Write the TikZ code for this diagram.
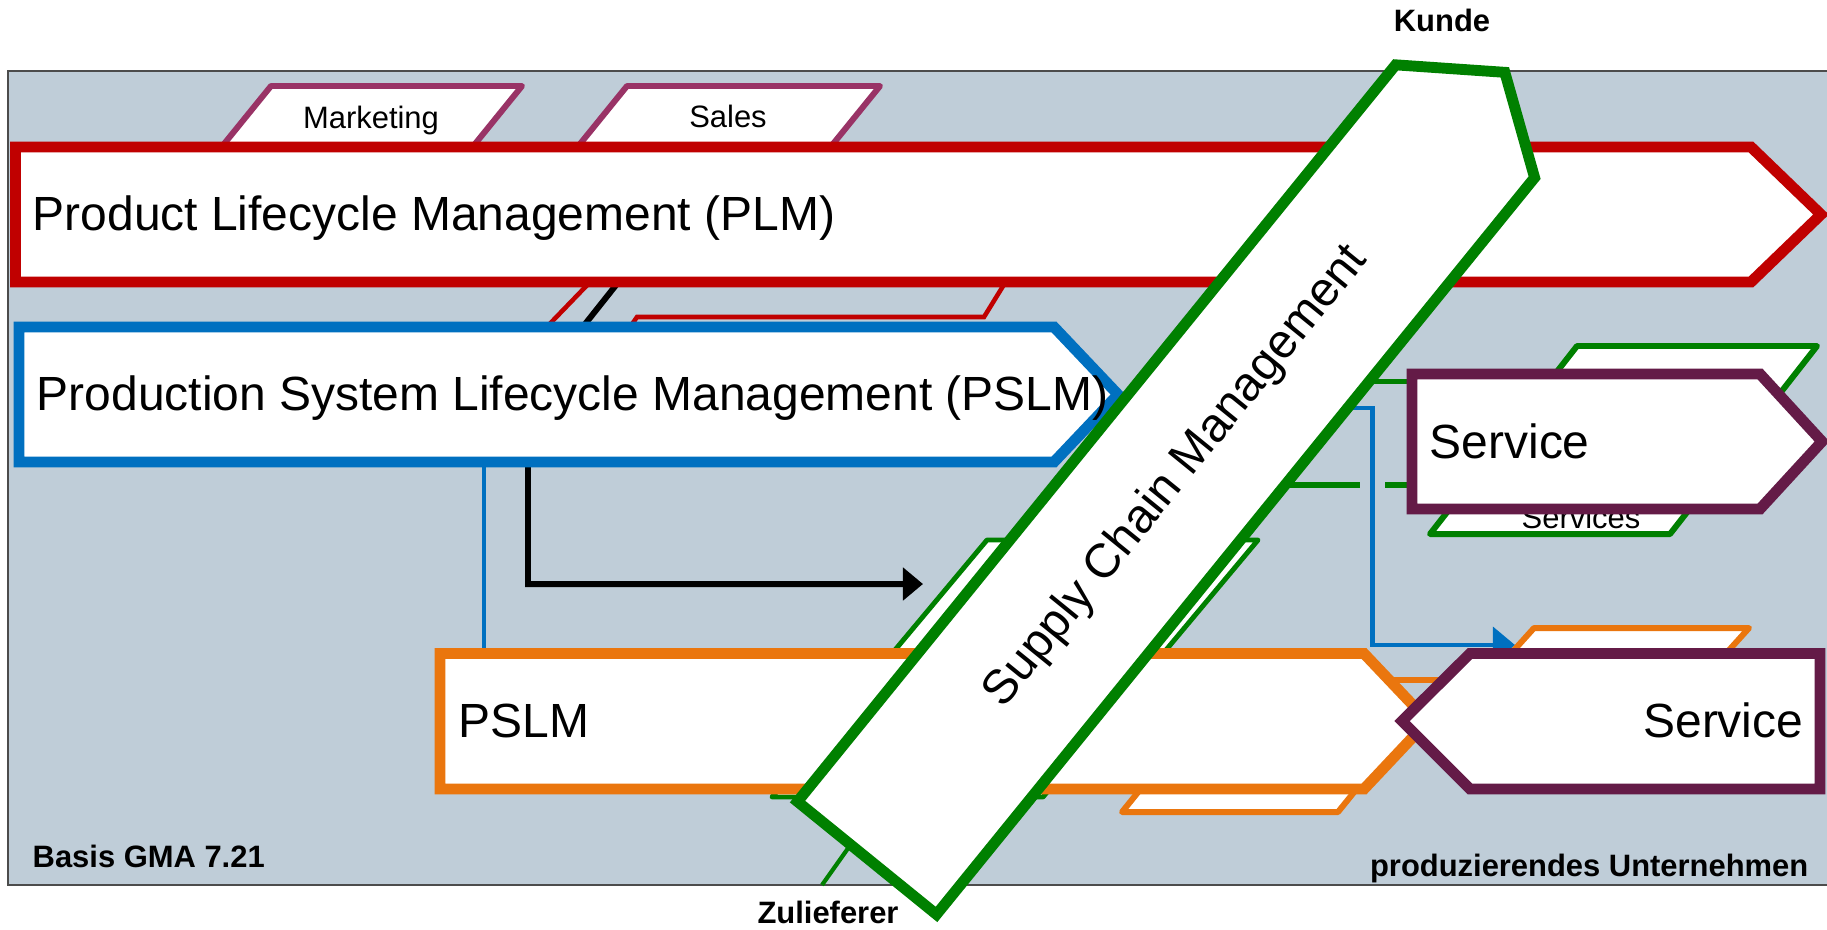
\documentclass[tikz,border=0pt]{standalone}
\usepackage{fontspec}
\setmainfont{Liberation Sans}
\usepackage{tikz}
\usetikzlibrary{arrows.meta}
\definecolor{plmred}{RGB}{192, 0, 0}
\definecolor{pslmblue}{RGB}{0, 112, 192}
\definecolor{scmgreen}{RGB}{0, 128, 0}
\definecolor{prodorange}{RGB}{234, 118, 14}
\definecolor{servpurple}{RGB}{100, 27, 71}
\definecolor{tabplum}{RGB}{153, 51, 102}
\definecolor{basegray}{RGB}{191, 205, 216}

\begin{document}
\begin{tikzpicture}[
    band/.style={draw=#1, fill=white, line width=3.1pt},
    tab/.style={draw=#1, fill=white, line width=1.7pt, line join=round},
    link/.style={draw=#1, line width=1.3pt},
    bigtext/.style={font=\fontsize{13.65}{16}\selectfont, inner sep=0pt},
    tabtext/.style={font=\fontsize{8.8}{10}\selectfont, inner sep=0pt},
    edgetext/.style={font=\fontsize{8.8}{10}\selectfont\bfseries, inner sep=0pt}
]
    \useasboundingbox (0,0) rectangle (18.27,-9.29);

    % ==========================================
    % COMPANY BACKGROUND
    % ==========================================
    \fill[basegray] (0.08,-0.71) rectangle (18.6,-8.85);
    \draw[black!70, line width=0.5pt] (18.6,-0.71) -- (0.08,-0.71) -- (0.08,-8.85) -- (18.6,-8.85);

    % ==========================================
    % COORDINATES
    % ==========================================
    % PLM band
    \coordinate (plm_nw) at (0.155,-1.47);
    \coordinate (plm_ne) at (17.51,-1.47);
    \coordinate (plm_tip) at (18.21,-2.145);
    \coordinate (plm_se) at (17.51,-2.82);
    \coordinate (plm_sw) at (0.155,-2.82);

    % PSLM band
    \coordinate (pslm_nw) at (0.19,-3.27);
    \coordinate (pslm_ne) at (10.54,-3.27);
    \coordinate (pslm_tip) at (11.18,-3.945);
    \coordinate (pslm_se) at (10.54,-4.62);
    \coordinate (pslm_sw) at (0.19,-4.62);

    % PSLM (orange) band
    \coordinate (prod_nw) at (4.40,-6.535);
    \coordinate (prod_ne) at (13.64,-6.535);
    \coordinate (prod_tip) at (14.28,-7.21);
    \coordinate (prod_se) at (13.64,-7.89);
    \coordinate (prod_sw) at (4.40,-7.89);

    % Service (top)
    \coordinate (serv_nw) at (14.12,-3.74);
    \coordinate (serv_ne) at (17.60,-3.74);
    \coordinate (serv_tip) at (18.22,-4.415);
    \coordinate (serv_se) at (17.60,-5.09);
    \coordinate (serv_sw) at (14.12,-5.09);

    % Service (bottom, pointing left)
    \coordinate (back_ne) at (18.20,-6.535);
    \coordinate (back_nw) at (14.70,-6.535);
    \coordinate (back_tip) at (14.02,-7.21);
    \coordinate (back_sw) at (14.70,-7.89);
    \coordinate (back_se) at (18.20,-7.89);

    % ==========================================
    % TABS ON TOP OF PLM
    % ==========================================
    \draw[tab=tabplum] (2.71,-0.86) -- (5.22,-0.86) -- (4.62,-1.60) -- (2.11,-1.60) -- cycle;
    \node[tabtext, anchor=base] (marketing) at (3.71,-1.28) {Marketing};

    \draw[tab=tabplum] (6.27,-0.86) -- (8.80,-0.86) -- (8.20,-1.60) -- (5.67,-1.60) -- cycle;
    \node[tabtext, anchor=base] (sales) at (7.28,-1.27) {Sales};

    % ==========================================
    % LINES BETWEEN PLM AND PSLM
    % ==========================================
    \draw[link=plmred] (5.94,-2.78) -- (5.39,-3.35);
    \draw[link=plmred] (10.08,-2.78) -- (9.84,-3.17) -- (6.37,-3.17) -- (6.28,-3.30);
    \draw[black, line width=1.7pt, -{Triangle[length=5.7pt, width=9.1pt]}]
        (6.24,-2.75) -- (5.28,-3.96) -- (5.28,-5.84) -- (9.23,-5.84);
    \draw[link=pslmblue] (4.84,-4.50) -- (4.84,-6.60);

    % ==========================================
    % PLM
    % ==========================================
    \draw[band=plmred] (plm_nw) -- (plm_ne) -- (plm_tip) -- (plm_se) -- (plm_sw) -- cycle;
    \node[bigtext, anchor=base west] (plmtext) at (0.32,-2.30) {Product Lifecycle Management (PLM)};

    % ==========================================
    % PSLM
    % ==========================================
    \draw[band=pslmblue] (pslm_nw) -- (pslm_ne) -- (pslm_tip) -- (pslm_se) -- (pslm_sw) -- cycle;
    \node[bigtext, anchor=base west] (pslmtext) at (0.36,-4.10) {Production System Lifecycle Management (PSLM)};

    % ==========================================
    % SERVICE SIDE (tabs and links)
    % ==========================================
    \draw[tab=scmgreen] (15.77,-3.46) -- (18.17,-3.46) -- (16.70,-5.34) -- (14.30,-5.34) -- cycle;
    \node[tabtext, anchor=base] (services) at (15.81,-5.28) {Services};

    \draw[scmgreen, line width=1.5pt] (13.55,-3.815) -- (14.12,-3.815);
    \draw[scmgreen, line width=1.5pt] (12.80,-4.85) -- (13.60,-4.85);
    \draw[scmgreen, line width=1.5pt] (13.85,-4.85) -- (14.12,-4.85);

    \draw[pslmblue, line width=1.3pt, -{Triangle[length=6.3pt, width=10.2pt]}]
        (13.40,-4.08) -- (13.725,-4.08) -- (13.725,-6.45) -- (15.15,-6.45);

    % tabs behind the lower bands
    \draw[tab=scmgreen, line width=1.4pt] (9.87,-5.40) -- (12.58,-5.40) -- (10.43,-7.97) -- (7.72,-7.97) -- cycle;
    \draw[tab=prodorange] (15.34,-6.28) -- (17.49,-6.28) -- (16.84,-7.00) -- (14.69,-7.00) -- cycle;
    \draw[tab=prodorange] (11.22,-8.12) -- (13.38,-8.12) -- (13.72,-7.70) -- (11.56,-7.70) -- cycle;
    \draw[prodorange, line width=1.8pt] (13.80,-6.80) -- (14.60,-6.80);

    % ==========================================
    % PSLM (orange)
    % ==========================================
    \draw[band=prodorange] (prod_nw) -- (prod_ne) -- (prod_tip) -- (prod_se) -- (prod_sw) -- cycle;
    \node[bigtext, anchor=base west] (prodtext) at (4.58,-7.37) {PSLM};

    % ==========================================
    % SERVICE
    % ==========================================
    \draw[band=servpurple] (serv_nw) -- (serv_ne) -- (serv_tip) -- (serv_se) -- (serv_sw) -- cycle;
    \node[bigtext, anchor=base west] (servtext) at (14.29,-4.58) {Service};

    \draw[band=servpurple] (back_ne) -- (back_nw) -- (back_tip) -- (back_sw) -- (back_se) -- cycle;
    \node[bigtext, anchor=base east] (backtext) at (18.04,-7.37) {Service};

    % ==========================================
    % SUPPLY CHAIN MANAGEMENT (Green, on top)
    % ==========================================
    \draw[scmgreen, line width=1.2pt] (8.61,-8.30) -- (8.22,-8.85);
    \begin{scope}[shift={(8.67,-8.58)}, rotate=50.93]
        \draw[band=scmgreen] (0,-0.895) -- (9.49,-0.895) -- (10.12,0) -- (9.49,0.895) -- (0,0.895) -- cycle;
        \node[bigtext, transform shape] (scmtext) at (4.91,0) {Supply Chain Management};
    \end{scope}

    % ==========================================
    % OUTER LABELS
    % ==========================================
    \node[edgetext, anchor=base] (kunde) at (14.42,-0.317) {Kunde};
    \node[edgetext, anchor=base] (zulieferer) at (8.28,-9.23) {Zulieferer};
    \node[edgetext, anchor=base west] (basis) at (0.32,-8.67) {Basis GMA 7.21};
    \node[edgetext, anchor=base east] (firma) at (18.09,-8.765) {produzierendes Unternehmen};

\end{tikzpicture}
\end{document}
